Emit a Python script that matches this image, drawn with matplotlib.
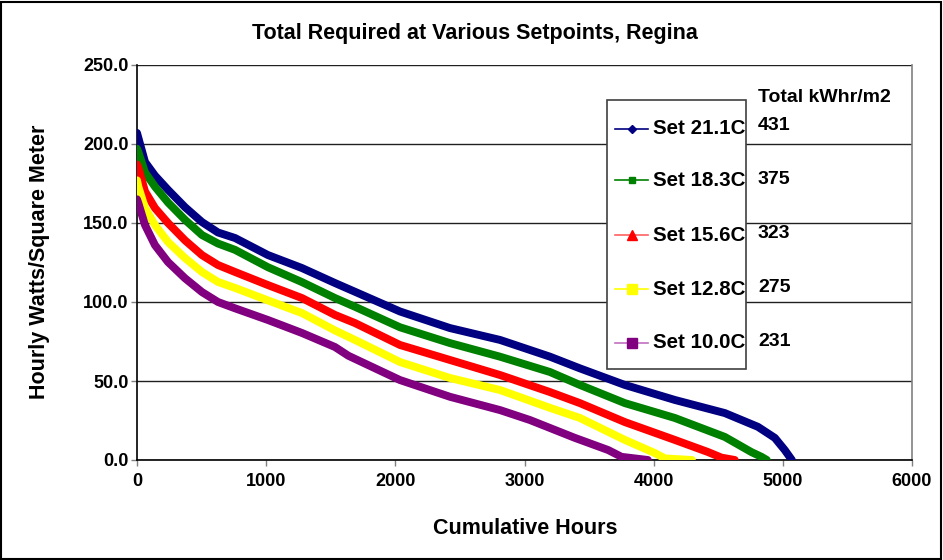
import matplotlib
matplotlib.use("Agg")
import matplotlib.pyplot as plt
from matplotlib.lines import Line2D
from matplotlib.patches import Rectangle

plt.rcParams['font.family'] = ['Liberation Sans', 'DejaVu Sans']
plt.rcParams['font.weight'] = 'bold'

title = "Total Required at Various Setpoints, Regina"
x_label = "Cumulative Hours"
y_label = "Hourly Watts/Square Meter"

series_names = ["Set 21.1C", "Set 18.3C", "Set 15.6C", "Set 12.8C", "Set 10.0C"]
totals = ["431", "375", "323", "275", "231"]
totals_header = "Total kWhr/m2"

h_211 = [0, 10, 62, 139, 240, 372, 503, 627, 759, 1014, 1277, 1533, 1687, 2036, 2423, 2810, 3197, 3429, 3777, 4164, 4551, 4807, 4938, 5015, 5070]
v_211 = [207, 204, 188.6, 180, 171, 160, 150.6, 144, 140.5, 129.7, 121.5, 112, 106.5, 94, 83.5, 76, 65.4, 58, 47.5, 38, 29.7, 21, 14, 6.3, 0]

h_183 = [0, 10, 62, 139, 240, 372, 503, 627, 759, 1014, 1277, 1533, 1687, 2036, 2423, 2810, 3197, 3429, 3777, 4164, 4551, 4757, 4835, 4876]
v_183 = [197, 195, 182, 173, 163, 152, 142.4, 137, 133, 122, 112.6, 102.5, 97, 84, 74, 65.4, 55.7, 47.5, 36, 26.6, 14.6, 5, 2, 0]

h_156 = [0, 10, 62, 139, 240, 372, 503, 627, 759, 1014, 1277, 1533, 1687, 2036, 2423, 2810, 3197, 3429, 3777, 4164, 4422, 4525, 4628]
v_156 = [187, 185, 170, 159.5, 150, 139, 129.7, 123.4, 119, 110.7, 102.5, 91.8, 86.7, 72.8, 63.3, 53.8, 43, 36, 24, 12.7, 5, 1.5, 0]

h_128 = [0, 10, 62, 139, 240, 372, 503, 627, 759, 1014, 1277, 1533, 1687, 2036, 2423, 2810, 3197, 3429, 3777, 4009, 4087, 4296]
v_128 = [177, 173, 159.5, 148.7, 138, 127.8, 119, 112.7, 108.9, 101, 93, 82, 76, 62, 51.9, 44.3, 33, 26.6, 12.7, 4.4, 1, 0]

h_100 = [0, 10, 62, 139, 240, 372, 503, 627, 759, 1014, 1277, 1533, 1636, 2036, 2423, 2810, 3042, 3390, 3648, 3751, 3955]
v_100 = [165, 162.7, 148.7, 136, 125.3, 115, 106.3, 100, 96, 88.6, 80.4, 71.5, 66, 50.6, 40, 31.6, 25.3, 14, 6.3, 2, 0]

x_ticks = [0, 1000, 2000, 3000, 4000, 5000, 6000]
y_ticks = [0, 50, 100, 150, 200, 250]

series = [(h_211, v_211), (h_183, v_183), (h_156, v_156), (h_128, v_128), (h_100, v_100)]
colors = ["#000080", "#008000", "#FF0000", "#FFFF00", "#800080"]
legend_line_colors = ["#000080", "#008000", "#FF6060", "#FFFF00", "#C070C0"]
markers = ["D", "s", "^", "s", "s"]
msizes = [4, 5, 6.5, 6.5, 6.5]

W, H = 943, 560
def fx(px):
    return px / W
def fy(py):
    return 1 - py / H

fig = plt.figure(figsize=(9.43, 5.6), dpi=100)
ax = fig.add_axes([fx(137), fy(460), (912-137)/W, (460-65)/H])

for (h, v), c in zip(series, colors):
    ax.plot(h, v, color=c, lw=5.7, solid_capstyle='round', solid_joinstyle='round', zorder=3)

ax.set_xlim(0, 6000)
ax.set_ylim(0, 250)
ax.set_xticks(x_ticks)
ax.set_yticks(y_ticks)
ax.set_xticklabels([str(t) for t in x_ticks], fontsize=13, fontweight='bold')
ax.set_yticklabels([f"{t:.1f}" for t in y_ticks], fontsize=13, fontweight='bold')
ax.yaxis.grid(True, color='#202020', lw=1)
ax.set_axisbelow(True)
ax.tick_params(axis='both', direction='out', length=4, width=1, color='#808080')
ax.tick_params(axis='x', pad=5)
ax.tick_params(axis='y', pad=2)
for s in ['left', 'bottom']:
    ax.spines[s].set_color('black')
    ax.spines[s].set_linewidth(1.2)
ax.spines['top'].set_visible(False)
ax.spines['right'].set_color('#808080')
ax.spines['right'].set_linewidth(1.2)

fig.text(fx(525), fy(528), x_label, ha='center', va='center', fontsize=15.5, fontweight='bold')
fig.text(fx(40), fy(262), y_label, ha='center', va='center', rotation=90, fontsize=15.5, fontweight='bold')
fig.text(fx(475), fy(33), title, ha='center', va='center', fontsize=15.5, fontweight='bold')

# legend box (manual)
fig.add_artist(Rectangle((fx(607), fy(369)), (746-607)/W, (369-100)/H, transform=fig.transFigure,
                         facecolor='white', edgecolor='#404040', lw=1.2, zorder=5))
for name, lc, c, m, ms, y in zip(series_names, legend_line_colors, colors, markers, msizes,
                                 [129, 180, 235, 289, 343]):
    fig.add_artist(Line2D([fx(615), fx(648)], [fy(y), fy(y)], transform=fig.transFigure,
                          color=lc, lw=1.2, zorder=6))
    fig.add_artist(Line2D([fx(631.5)], [fy(y)], transform=fig.transFigure, marker=m,
                          markersize=ms, color=c, markerfacecolor=c, markeredgecolor=c, zorder=7))
    fig.text(fx(653), fy(y), name, ha='left', va='center', fontsize=14.8, fontweight='bold', zorder=8)

fig.text(fx(758), fy(97), totals_header, ha='left', va='center', fontsize=14, fontweight='bold')
for t, y in zip(totals, [125, 179, 233, 287, 342]):
    fig.text(fx(758), fy(y), t, ha='left', va='center', fontsize=14, fontweight='bold')

fig.add_artist(Rectangle((0.001, 0.002), 0.997, 0.995, transform=fig.transFigure,
                         fill=False, edgecolor='black', lw=1.5, zorder=10))

fig.savefig("out.png", dpi=100)
